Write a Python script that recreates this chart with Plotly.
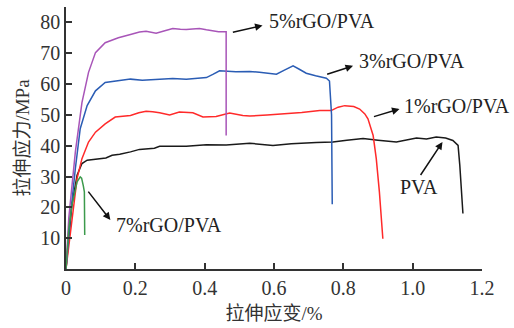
import plotly.graph_objects as go

# ---- data (strain %, stress MPa) ----
pva_x = [0, 0.017, 0.032, 0.046, 0.061, 0.094, 0.115, 0.133, 0.155, 0.186, 0.212, 0.255, 0.27, 0.347, 0.405, 0.462, 0.53, 0.597, 0.65, 0.722, 0.77, 0.81, 0.857, 0.9, 0.953, 1.011, 1.04, 1.068, 1.095, 1.116, 1.131, 1.136, 1.138, 1.142, 1.145]
pva_y = [0, 20.7, 30.4, 34.2, 35.3, 35.8, 36.0, 36.9, 37.2, 38.0, 38.8, 39.2, 39.8, 39.8, 40.3, 40.2, 40.8, 40.1, 40.6, 41, 41.2, 41.8, 42.3, 41.8, 41.2, 42.5, 42.2, 42.8, 42.5, 41.7, 40.1, 33.6, 30, 24, 18]

r1_x = [0, 0.017, 0.032, 0.046, 0.065, 0.085, 0.113, 0.142, 0.165, 0.186, 0.21, 0.231, 0.25, 0.27, 0.299, 0.327, 0.366, 0.395, 0.433, 0.472, 0.51, 0.53, 0.58, 0.626, 0.68, 0.732, 0.765, 0.785, 0.804, 0.83, 0.847, 0.862, 0.871, 0.886, 0.895, 0.904, 0.91, 0.914]
r1_y = [0, 16.5, 29.4, 35.8, 41.2, 44.4, 47.1, 49.3, 49.5, 49.8, 50.7, 51.2, 51, 50.7, 50, 50.9, 50.7, 49.3, 49.5, 50.6, 49.8, 49.6, 50, 50.3, 50.8, 51.4, 51.4, 52.5, 53, 52.7, 51.9, 50.3, 48.7, 43.3, 35.8, 25, 14.3, 9.8]

r3_x = [0, 0.012, 0.027, 0.041, 0.061, 0.085, 0.113, 0.147, 0.186, 0.22, 0.25, 0.28, 0.308, 0.347, 0.38, 0.405, 0.425, 0.443, 0.49, 0.53, 0.558, 0.585, 0.607, 0.63, 0.655, 0.673, 0.693, 0.72, 0.751, 0.76, 0.766, 0.768]
r3_y = [0, 16.5, 32.6, 45.5, 53, 57.8, 60.5, 61, 61.6, 61.2, 61.4, 61.5, 61.8, 61.6, 61.8, 62.1, 63.2, 64.3, 64, 64.1, 63.8, 63.5, 63.2, 64.5, 65.9, 64.8, 63.5, 62.7, 61.9, 61, 50, 21]

r5_x = [0, 0.008, 0.027, 0.046, 0.065, 0.085, 0.113, 0.151, 0.186, 0.212, 0.231, 0.245, 0.26, 0.285, 0.308, 0.33, 0.347, 0.365, 0.385, 0.405, 0.424, 0.44, 0.457, 0.462, 0.462]
r5_y = [0, 16.5, 38, 54, 63.8, 70.2, 73.4, 75, 76.1, 76.9, 77.1, 76.9, 76.5, 77.3, 78, 77.8, 77.7, 77.9, 78, 77.6, 77.2, 77.0, 77, 77, 43.3]

r7_x = [0, 0.008, 0.017, 0.032, 0.041, 0.045, 0.05, 0.053, 0.054]
r7_y = [0, 13, 20.7, 28.3, 29.9, 29.5, 27, 25, 11]

x_ticks = [0, 0.2, 0.4, 0.6, 0.8, 1.0, 1.2]
x_tick_text = ["0", "0.2", "0.4", "0.6", "0.8", "1.0", "1.2"]
y_ticks = [10, 20, 30, 40, 50, 60, 70, 80]

labels = ["PVA", "1%rGO/PVA", "3%rGO/PVA", "5%rGO/PVA", "7%rGO/PVA"]

FONT = "Liberation Serif, Times New Roman, Noto Sans CJK SC, serif"
AX = "#333333"

fig = go.Figure()
series = [
    (pva_x, pva_y, "#1a1a1a", labels[0]),
    (r1_x, r1_y, "#ff2a2a", labels[1]),
    (r3_x, r3_y, "#2a5cb4", labels[2]),
    (r5_x, r5_y, "#a855b8", labels[3]),
    (r7_x, r7_y, "#3c9a4c", labels[4]),
]
for xs, ys, c, name in series:
    fig.add_trace(go.Scatter(x=xs, y=ys, mode="lines", name=name,
                             line=dict(color=c, width=1.5), showlegend=False))

# arrows: (head_x, head_y, tail_x, tail_y)
arrows = [
    (0.567, 79.0, 0.477, 76.7),
    (0.828, 65.9, 0.749, 63.0),
    (0.962, 51.9, 0.884, 49.3),
    (1.086, 41.2, 1.02, 30.0),
    (0.128, 15.9, 0.061, 25.6),
]
for hx, hy, tx, ty in arrows:
    fig.add_annotation(x=hx, y=hy, ax=tx, ay=ty, xref="x", yref="y",
                       axref="x", ayref="y", text="", showarrow=True,
                       arrowhead=2, arrowsize=1, arrowwidth=1.5,
                       arrowcolor="#111111")

# text positions
text_pos = [
    (1.017, 26.7),
    (1.127, 52.9),
    (0.999, 67.5),
    (0.739, 80.3),
    (0.297, 14.3),
]
for (tx, ty), lab in zip(text_pos, labels):
    fig.add_annotation(x=tx, y=ty, xref="x", yref="y", text=lab,
                       showarrow=False, font=dict(family=FONT, size=20, color="#222222"))

fig.update_layout(
    width=514, height=328,
    margin=dict(l=66, r=32, t=7, b=57),
    plot_bgcolor="white", paper_bgcolor="white",
    font=dict(family=FONT, size=20, color=AX),
)
fig.update_xaxes(range=[0, 1.2], tickvals=x_ticks, ticktext=x_tick_text,
                 ticks="inside", ticklen=6, tickwidth=1.5, tickcolor=AX,
                 showline=True, linecolor=AX, linewidth=1.5, showgrid=False,
                 zeroline=False, tickfont=dict(family=FONT, size=20, color=AX),
                 title=dict(text="拉伸应变/%", standoff=9,
                            font=dict(family=FONT, size=19, color=AX)))
fig.update_yaxes(range=[0, 85], tickvals=y_ticks,
                 ticks="inside", ticklen=6, tickwidth=1.5, tickcolor=AX,
                 showline=True, linecolor=AX, linewidth=1.5, showgrid=False,
                 zeroline=False, tickfont=dict(family=FONT, size=20, color=AX),
                 title=dict(text="拉伸应力/MPa", standoff=6,
                            font=dict(family=FONT, size=19, color=AX)))

fig.write_html("out.html")
